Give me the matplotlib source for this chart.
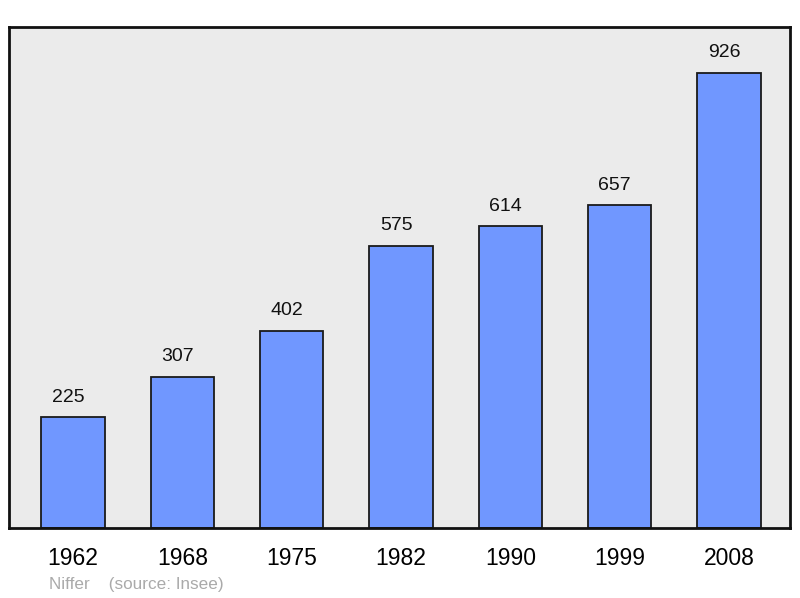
import numpy as np
import matplotlib.pyplot as plt

plt.rcParams['font.family'] = ['Liberation Sans', 'DejaVu Sans']

years = ["1962", "1968", "1975", "1982", "1990", "1999", "2008"]
population = [225, 307, 402, 575, 614, 657, 926]

fig = plt.figure(figsize=(8, 5.98), dpi=100)
ax = fig.add_axes([9/800, 1 - 528/598, 781/800, 501/598])
ax.set_facecolor('#ebebeb')

x = np.arange(len(years))
ax.bar(x, population, width=0.58, color='#7097ff', edgecolor='#1a1a1a', linewidth=1.3, zorder=2)

# les étiquettes sont un peu décalées à gauche dans l'original
for xi, v in zip(x, population):
    ax.text(xi - 0.045, v + 24, str(v), ha='center', va='bottom', fontsize=14, color='#111111')

ax.set_xlim(-0.585, 6.558)
ax.set_ylim(0, 1020)
ax.set_xticks(x)
ax.set_xticklabels(years, fontsize=16.5)
ax.tick_params(axis='x', length=0, pad=14)
ax.set_yticks([])
for s in ax.spines.values():
    s.set_linewidth(2)
    s.set_color('#111111')

fig.text(49/800, 1 - 584/598, "Niffer    (source: Insee)", fontsize=12.3, color='#aaaaaa', va='center')

fig.savefig('out.png', dpi=100)
